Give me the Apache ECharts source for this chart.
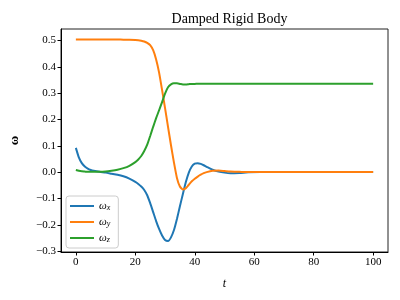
<!DOCTYPE html>
<html>
<head>
<meta charset="utf-8">
<script src="https://cdn.jsdelivr.net/npm/echarts@6/dist/echarts.min.js"></script>
<style>html,body{margin:0;padding:0;background:#fff}#c{width:400px;height:300px}</style>
</head>
<body>
<div id="c"></div>
<script>
var t = [0,1,2,3,4,5,6,8,10,12,14,16,18,20,21,22,23,24,25,26,27,28,29,30,31,32,33,34,35,36,37,38,39,40,41,42,43,44,46,48,50,52,55,58,62,66,70,80,90,100];
var wx = [0.092,0.056,0.034,0.021,0.013,0.008,0.005,0.001,-0.002,-0.006,-0.010,-0.016,-0.025,-0.037,-0.045,-0.055,-0.068,-0.088,-0.118,-0.152,-0.186,-0.216,-0.241,-0.258,-0.262,-0.248,-0.220,-0.178,-0.130,-0.083,-0.038,-0.002,0.021,0.032,0.034,0.031,0.026,0.020,0.009,0.002,-0.002,-0.004,-0.003,-0.001,0,0,0,0,0,0];
var wy = [0.504,0.504,0.504,0.504,0.504,0.504,0.504,0.504,0.504,0.504,0.504,0.503,0.503,0.502,0.501,0.499,0.496,0.491,0.482,0.463,0.428,0.378,0.312,0.243,0.172,0.102,0.036,-0.022,-0.055,-0.066,-0.061,-0.048,-0.035,-0.025,-0.017,-0.010,-0.004,0.000,0.005,0.006,0.004,0.002,0.001,0,0,0,0,0,0,0];
var wz = [0.008,0.005,0.003,0.002,0.001,0.001,0.001,0.001,0.002,0.005,0.009,0.015,0.024,0.038,0.048,0.061,0.080,0.104,0.137,0.172,0.205,0.235,0.266,0.298,0.322,0.333,0.337,0.337,0.335,0.333,0.333,0.334,0.335,0.335,0.336,0.336,0.336,0.336,0.336,0.336,0.336,0.336,0.336,0.336,0.336,0.336,0.336,0.336,0.336,0.336];
var xTicks = [0,20,40,60,80,100];
var yTicks = [-0.3,-0.2,-0.1,0.0,0.1,0.2,0.3,0.4,0.5];
var seriesNames = ['ωx','ωy','ωz'];
var subs = ['x','y','z'];
var colors = ['#1f77b4','#ff7f0e','#2ca02c'];

var FONT = 'Liberation Serif';
function pairs(v){ return t.map(function(x,i){ return [x, v[i]]; }); }
var vals = [wx, wy, wz];
var chart = echarts.init(document.getElementById('c'), null, {renderer:'canvas'});
chart.setOption({
  animation:false,
  backgroundColor:'#fff',
  title:{text:'Damped Rigid Body', left:224.5, textAlign:'center', top:7,
    textStyle:{fontFamily:FONT, fontSize:14, fontWeight:'normal', color:'#000'}},
  grid:{left:61, right:12, top:29, bottom:48, show:true, borderColor:'#222', borderWidth:1},
  legend:{
    left:66, top:196, orient:'vertical', itemGap:4, itemWidth:24, itemHeight:2,
    padding:[4,8,4,4], borderColor:'#ccc', borderWidth:1, borderRadius:3,
    backgroundColor:'rgba(255,255,255,0.8)', icon:'rect',
    data: seriesNames,
    formatter:function(n){ var i = seriesNames.indexOf(n); return '{a|ω}{b|'+subs[i]+'}'; },
    textStyle:{ rich:{ a:{fontFamily:FONT, fontStyle:'italic', fontSize:11, color:'#000', lineHeight:12},
                      b:{fontFamily:FONT, fontStyle:'italic', fontSize:8, color:'#000', verticalAlign:'bottom', padding:[4,0,0,0], lineHeight:12} } }
  },
  xAxis:{type:'value', min:-5, max:105,
    name:'t', nameLocation:'middle', nameGap:26,
    nameTextStyle:{fontFamily:FONT, fontStyle:'italic', fontSize:12, color:'#000'},
    axisLine:{show:true, onZero:false, lineStyle:{color:'#000', width:1}},
    axisTick:{show:true, length:3.5, customValues:xTicks, lineStyle:{color:'#000'}},
    axisLabel:{customValues:xTicks, fontFamily:FONT, fontSize:11, color:'#000', margin:5},
    splitLine:{show:false}},
  yAxis:{type:'value', min:-0.3035, max:0.5435,
    name:'ω', nameLocation:'middle', nameGap:40, nameRotate:90,
    nameTextStyle:{fontFamily:FONT, fontWeight:'bold', fontSize:13, color:'#000'},
    axisLine:{show:true, onZero:false, lineStyle:{color:'#000', width:1}},
    axisTick:{show:true, length:3.5, customValues:yTicks, lineStyle:{color:'#000'}},
    axisLabel:{customValues:yTicks, fontFamily:FONT, fontSize:11, color:'#000', margin:5,
      formatter:function(v){ return v.toFixed(1).replace('-', '\u2212'); }},
    splitLine:{show:false}},
  series: vals.map(function(v,i){
    return {name:seriesNames[i], type:'line', data:pairs(v), showSymbol:false, smooth:0.2,
      lineStyle:{color:colors[i], width:2}, itemStyle:{color:colors[i]}};
  })
});
</script>
</body>
</html>
